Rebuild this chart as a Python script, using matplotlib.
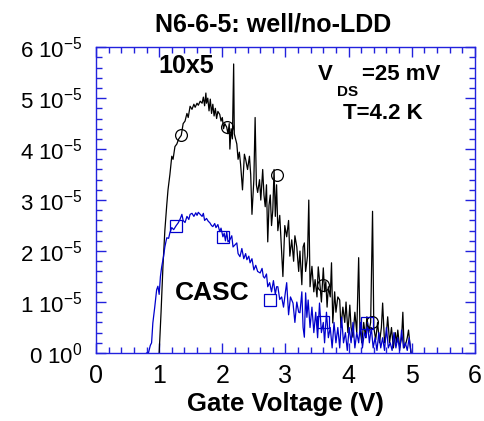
import matplotlib.pyplot as plt
from matplotlib.ticker import MultipleLocator, FixedLocator
import numpy as np

plt.rcParams['font.family'] = ['Liberation Sans', 'DejaVu Sans']

# Data (current in units of 1e-5 A, gate voltage in V)
black_v = [1.00, 1.03, 1.06, 1.09, 1.12, 1.14, 1.17, 1.20, 1.22, 1.25, 1.28, 1.31, 1.35, 1.38, 1.41,
           1.44, 1.46, 1.49, 1.52, 1.55, 1.57, 1.60, 1.62, 1.65, 1.68, 1.70, 1.72, 1.74, 1.75, 1.77,
           1.79, 1.81, 1.83, 1.85, 1.87, 1.89, 1.91, 1.93, 1.96, 1.98, 2.00, 2.02, 2.04, 2.07, 2.09,
           2.11, 2.12, 2.14, 2.16, 2.18, 2.19, 2.21, 2.23, 2.25, 2.27, 2.29, 2.32, 2.35, 2.37, 2.40,
           2.43, 2.45, 2.47, 2.50, 2.52, 2.54, 2.56, 2.59, 2.61, 2.64, 2.66, 2.68, 2.70, 2.72, 2.74,
           2.76, 2.78, 2.80, 2.82, 2.84, 2.86, 2.88, 2.91, 2.94, 2.96, 2.99, 3.02, 3.05, 3.07, 3.10,
           3.13, 3.15, 3.18, 3.21, 3.23, 3.26, 3.28, 3.30, 3.32, 3.35, 3.37, 3.39, 3.42, 3.45, 3.47,
           3.50, 3.52, 3.55, 3.57, 3.60, 3.62, 3.64, 3.66, 3.68, 3.71, 3.73, 3.75, 3.78, 3.80, 3.83,
           3.86, 3.88, 3.91, 3.94, 3.96, 3.99, 4.02, 4.04, 4.07, 4.10, 4.13, 4.16, 4.18, 4.21, 4.24,
           4.27, 4.29, 4.32, 4.35, 4.38, 4.40, 4.43, 4.46, 4.49, 4.52, 4.54, 4.57, 4.60, 4.62, 4.65,
           4.68, 4.71, 4.74, 4.76, 4.78, 4.81, 4.84, 4.86, 4.88, 4.91, 4.93, 4.95, 4.97, 4.99]
black_i = [0.0, 0.8, 1.7, 2.4, 2.9, 3.2, 3.5, 3.86, 3.8, 4.05, 4.1, 4.2, 4.27, 4.5, 4.55,
           4.7, 4.62, 4.84, 4.78, 4.88, 4.82, 4.9, 4.86, 4.94, 4.9, 5.02, 4.85, 5.1, 4.9, 5.0,
           4.75, 4.98, 4.7, 4.88, 4.65, 4.8, 4.6, 4.74, 4.68, 4.55, 4.62, 4.4, 4.5, 4.43, 4.3,
           4.5, 4.0, 4.4, 4.2, 5.67, 4.3, 4.2, 4.1, 3.8, 3.94, 3.7, 3.2, 3.9, 3.8, 3.6,
           3.86, 3.5, 2.72, 3.4, 4.62, 3.3, 3.15, 3.4, 3.0, 3.6, 3.1, 2.87, 3.3, 2.18, 2.9,
           3.1, 2.5, 2.8, 3.6, 2.68, 3.3, 2.4, 2.7, 2.0, 1.5, 2.5, 2.28, 2.6, 1.9, 2.22,
           1.8, 2.3, 2.08, 1.6, 2.0, 1.34, 2.08, 2.16, 1.6, 1.9, 3.0, 1.3, 1.7, 1.2, 1.44,
           1.1, 1.69, 1.3, 1.0, 1.67, 1.2, 1.4, 0.9, 1.3, 1.1, 1.77, 0.59, 1.2, 0.8, 1.1,
           1.04, 0.5, 0.9, 0.6, 1.0, 0.4, 0.94, 0.5, 0.31, 0.8, 0.4, 1.87, 0.5, 0.2, 0.6,
           0.3, 0.71, 0.4, 0.6, 2.78, 0.5, 0.26, 0.6, 0.2, 0.5, 0.98, 0.2, 0.4, 0.71, 0.2,
           0.5, 0.1, 0.4, 0.2, 0.45, 0.1, 0.3, 0.8, 0.1, 0.2, 0.3, 0.45, 0.2, 0.0]

blue_v = [0.80, 0.83, 0.86, 0.88, 0.90, 0.93, 0.96, 0.98, 1.00, 1.02, 1.04, 1.07, 1.09, 1.12, 1.15,
          1.17, 1.20, 1.23, 1.27, 1.30, 1.33, 1.36, 1.38, 1.41, 1.44, 1.47, 1.49, 1.52, 1.55, 1.58,
          1.60, 1.62, 1.65, 1.68, 1.70, 1.72, 1.75, 1.78, 1.80, 1.83, 1.85, 1.88, 1.90, 1.93, 1.96,
          1.98, 2.01, 2.03, 2.05, 2.07, 2.09, 2.12, 2.15, 2.17, 2.20, 2.23, 2.25, 2.28, 2.31, 2.34,
          2.37, 2.39, 2.42, 2.44, 2.47, 2.50, 2.53, 2.56, 2.60, 2.63, 2.65, 2.67, 2.70, 2.72, 2.75,
          2.78, 2.81, 2.84, 2.86, 2.88, 2.91, 2.94, 2.97, 3.00, 3.02, 3.05, 3.08, 3.12, 3.15, 3.18,
          3.21, 3.23, 3.26, 3.28, 3.30, 3.32, 3.34, 3.36, 3.39, 3.42, 3.45, 3.48, 3.51, 3.54, 3.57,
          3.60, 3.62, 3.65, 3.68, 3.71, 3.74, 3.77, 3.80, 3.83, 3.86, 3.89, 3.92, 3.95, 3.98, 4.01,
          4.04, 4.07, 4.10, 4.13, 4.16, 4.19, 4.22, 4.25, 4.28, 4.30, 4.33, 4.36, 4.39, 4.42, 4.45,
          4.48, 4.51, 4.54, 4.57, 4.60, 4.63, 4.66, 4.69, 4.72, 4.75, 4.78, 4.81, 4.84, 4.87, 4.90,
          4.93, 4.96, 4.99]
blue_i = [0.0, 0.0, 0.15, 0.2, 0.59, 0.9, 1.24, 1.31, 1.15, 1.5, 1.69, 1.9, 2.08, 2.26, 2.25,
          2.36, 2.46, 2.42, 2.5, 2.55, 2.62, 2.72, 2.6, 2.56, 2.68, 2.62, 2.72, 2.74, 2.68, 2.75,
          2.7, 2.76, 2.72, 2.68, 2.74, 2.6, 2.64, 2.58, 2.56, 2.5, 2.48, 2.54, 2.46, 2.52, 2.38,
          2.45, 2.28, 2.35, 2.2, 2.38, 2.18, 2.22, 2.3, 2.08, 2.12, 2.16, 1.95, 1.89, 2.05, 1.85,
          1.95, 1.83, 1.9, 1.77, 1.85, 1.63, 1.72, 1.6, 1.57, 1.66, 1.5, 1.47, 1.55, 1.3, 1.38,
          1.2, 1.42, 1.15, 1.3, 1.3, 1.05, 1.1, 0.9, 1.2, 1.38, 0.75, 1.1, 0.98, 0.6, 1.0,
          0.8, 0.79, 1.2, 0.5, 0.31, 1.18, 0.7, 1.04, 0.5, 0.9, 0.4, 0.8, 0.3, 0.98, 0.4,
          0.6, 0.2, 0.8, 0.3, 0.5, 0.1, 0.6, 0.2, 0.5, 0.1, 0.7, 0.2, 0.4, 0.05, 0.5,
          0.2, 0.6, 0.1, 0.4, 0.2, 0.6, 0.1, 0.4, 0.3, 0.6, 0.2, 0.5, 0.1, 0.3, 0.05,
          0.4, 0.1, 0.3, 0.05, 0.5, 0.1, 0.2, 0.05, 0.4, 0.1, 0.3, 0.05, 0.45, 0.1, 0.2,
          0.05, 0.3, 0.0]

circle_v = [1.35, 2.07, 2.86, 3.59, 4.37]
circle_i = [4.27, 4.43, 3.50, 1.34, 0.61]
square_v = [1.27, 2.01, 2.75, 3.59, 4.30]
square_i = [2.50, 2.28, 1.04, 0.60, 0.59]

y_ticks = [0, 1, 2, 3, 4, 5, 6]
y_labels = ['0 10$^{\\mathregular{0}}$'] + ['%d 10$^{\\mathregular{-5}}$' % k for k in y_ticks[1:]]

blue = '#0000cc'
frame = '#2222dd'

fig = plt.figure(figsize=(4.85, 4.21), dpi=100)
ax = fig.add_axes([0.198, 0.1615, 0.781, 0.7265])

ax.plot(black_v, np.array(black_i) * 1e-5, color='black', lw=0.9)
ax.plot(blue_v, np.array(blue_i) * 1e-5, color=blue, lw=0.9)
ax.plot(circle_v, np.array(circle_i) * 1e-5, 'o', mfc='none', mec='black', ms=8.5, mew=0.9)
ax.plot(square_v, np.array(square_i) * 1e-5, 's', mfc='none', mec=blue, ms=8.5, mew=0.9)

ax.set_xlim(0, 6)
ax.set_ylim(0, 6e-5)
ax.xaxis.set_major_locator(MultipleLocator(1))
ax.xaxis.set_minor_locator(MultipleLocator(0.2))
ax.yaxis.set_major_locator(FixedLocator([t * 1e-5 for t in y_ticks]))
ax.yaxis.set_minor_locator(MultipleLocator(0.2e-5))
ax.set_yticklabels(y_labels, fontsize=16)
ax.tick_params(axis='x', labelsize=18, pad=8)
ax.tick_params(axis='y', pad=10)

for s in ax.spines.values():
    s.set_color(frame)
    s.set_linewidth(1.0)
ax.tick_params(which='both', direction='in', top=True, right=True, color=frame, labelcolor='black')
ax.tick_params(which='major', length=7, width=1.0)
ax.tick_params(which='minor', length=4, width=1.0)

ax.set_xlabel('Gate Voltage (V)', fontsize=18.5, fontweight='bold', labelpad=3)
fig.text(273 / 485, 1 - 24 / 421, 'N6-6-5: well/no-LDD', fontsize=18, fontweight='bold',
         ha='center', va='center')

ax.text(0.98, 5.64e-5, '10x5', fontsize=18, fontweight='bold', va='center')
ax.text(1.25, 1.17e-5, 'CASC', fontsize=19, fontweight='bold', va='center')
ax.text(3.51, 5.47e-5, 'V', fontsize=16, fontweight='bold', va='center')
ax.text(3.81, 5.13e-5, 'DS', fontsize=11, fontweight='bold', va='center')
ax.text(4.21, 5.47e-5, '=25 mV', fontsize=16, fontweight='bold', va='center')
ax.text(3.91, 4.69e-5, 'T=4.2 K', fontsize=16, fontweight='bold', va='center')

fig.savefig('out.png', dpi=100)
